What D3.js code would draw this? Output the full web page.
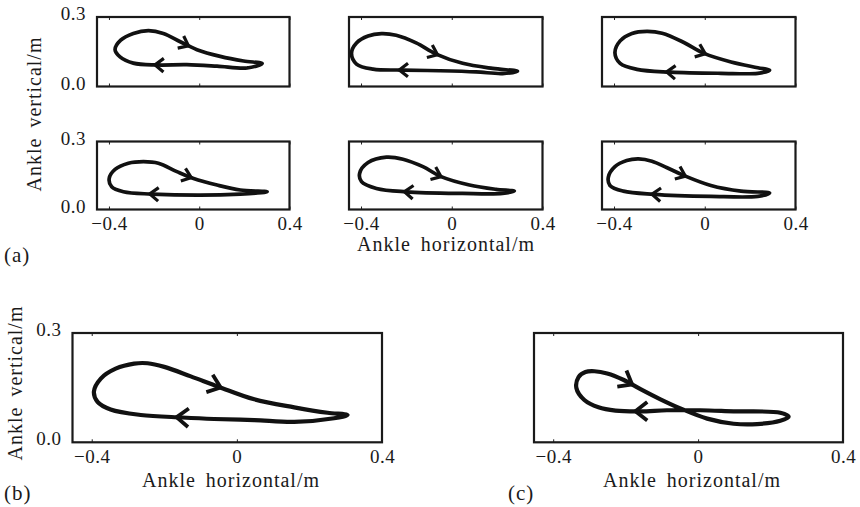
<!DOCTYPE html>
<html>
<head>
<meta charset="utf-8">
<script src="https://cdn.jsdelivr.net/npm/d3@7"></script>
<style>
  html, body { margin: 0; padding: 0; background: #fff; }
  svg { display: block; }
  text { font-family: "Liberation Serif", "Times New Roman", Times, serif; fill: #1a1a1a; }
</style>
</head>
<body>
<svg id="chart" width="860" height="507"></svg>
<script>
// Ankle trajectories (horizontal, vertical) in metres.
// Each loop starts at the forward tip, runs back along the lower (return) branch,
// around the rear end, and forward along the upper (swing) branch.
const trajA1 = [[0.279,0.099],[0.212,0.080],[0.079,0.088],[-0.055,0.094],[-0.188,0.093],[-0.292,0.101],[-0.351,0.128],[-0.373,0.159],[-0.348,0.200],[-0.292,0.229],[-0.225,0.241],[-0.159,0.229],[-0.084,0.193],[-0.010,0.159],[0.093,0.130],[0.197,0.110]];
const trajA2 = [[0.290,0.066],[0.224,0.056],[0.107,0.063],[-0.054,0.068],[-0.215,0.071],[-0.347,0.075],[-0.420,0.097],[-0.442,0.144],[-0.420,0.188],[-0.369,0.218],[-0.310,0.228],[-0.245,0.221],[-0.157,0.188],[-0.069,0.140],[0.048,0.100],[0.180,0.078]];
const trajA3 = [[0.286,0.070],[0.234,0.057],[0.071,0.057],[-0.151,0.062],[-0.299,0.074],[-0.373,0.100],[-0.396,0.146],[-0.373,0.197],[-0.321,0.229],[-0.255,0.238],[-0.188,0.230],[-0.092,0.190],[-0.003,0.143],[0.116,0.106],[0.234,0.081]];
const trajA4 = [[0.301,0.078],[0.182,0.068],[0.004,0.063],[-0.210,0.068],[-0.336,0.078],[-0.388,0.100],[-0.399,0.137],[-0.373,0.177],[-0.314,0.204],[-0.247,0.211],[-0.181,0.204],[-0.099,0.167],[-0.025,0.137],[0.079,0.108],[0.182,0.086]];
const trajA5 = [[0.276,0.081],[0.224,0.071],[0.048,0.071],[-0.201,0.078],[-0.332,0.093],[-0.398,0.123],[-0.406,0.160],[-0.369,0.207],[-0.288,0.231],[-0.215,0.222],[-0.127,0.189],[-0.047,0.145],[0.078,0.108],[0.195,0.089]];
const trajA6 = [[0.286,0.073],[0.234,0.058],[0.027,0.058],[-0.225,0.067],[-0.359,0.081],[-0.418,0.106],[-0.425,0.143],[-0.396,0.189],[-0.344,0.216],[-0.292,0.223],[-0.233,0.213],[-0.166,0.184],[-0.092,0.150],[0.027,0.106],[0.160,0.081]];
const trajB  = [[0.305,0.075],[0.268,0.066],[0.158,0.056],[0.048,0.061],[-0.063,0.064],[-0.150,0.068],[-0.265,0.075],[-0.348,0.090],[-0.384,0.111],[-0.394,0.139],[-0.375,0.175],[-0.334,0.202],[-0.283,0.216],[-0.246,0.217],[-0.200,0.207],[-0.127,0.181],[-0.049,0.152],[0.048,0.118],[0.158,0.096],[0.250,0.081]];
const trajC  = [[0.250,0.070],[0.227,0.081],[0.098,0.085],[0.006,0.088],[-0.086,0.088],[-0.159,0.085],[-0.228,0.087],[-0.275,0.096],[-0.314,0.116],[-0.336,0.149],[-0.330,0.179],[-0.311,0.193],[-0.286,0.195],[-0.251,0.189],[-0.205,0.171],[-0.159,0.146],[-0.104,0.118],[-0.049,0.093],[0.025,0.065],[0.098,0.051],[0.163,0.050],[0.227,0.059]];

// Horizontal position of the direction arrows: [swing branch, return branch]
const arrowsA1 = [-0.047, -0.196];
const arrowsA2 = [-0.062, -0.230];
const arrowsA3 = [0.004, -0.166];
const arrowsA4 = [-0.033, -0.218];
const arrowsA5 = [-0.047, -0.208];
const arrowsA6 = [-0.084, -0.232];
const arrowsB  = [-0.044, -0.164];
const arrowsC  = [-0.182, -0.173];

// Axis ticks and titles
const xTicks = [-0.4, 0, 0.4];
const yTicks = [0, 0.3];
const xDomain = [-0.453, 0.4];
const yDomain = [0, 0.3];
const xTitle = "Ankle horizontal/m";
const yTitle = "Ankle vertical/m";

const svg = d3.select("#chart");
const FONT = "'Liberation Serif', 'Times New Roman', Times, serif";

// Panel frames [left, top, right, bottom] in px
const panels = [
  { data: trajA1, arrows: arrowsA1, box: [97, 17, 289.5, 86.5],   xLab: false, yLab: true,  big: false },
  { data: trajA2, arrows: arrowsA2, box: [349, 17, 542.5, 86.5],  xLab: false, yLab: false, big: false },
  { data: trajA3, arrows: arrowsA3, box: [602, 17, 795.5, 86.5],  xLab: false, yLab: false, big: false },
  { data: trajA4, arrows: arrowsA4, box: [97, 141.5, 289.5, 209.5],  xLab: true, yLab: true,  big: false },
  { data: trajA5, arrows: arrowsA5, box: [349, 141.5, 542.5, 209.5], xLab: true, yLab: false, big: false },
  { data: trajA6, arrows: arrowsA6, box: [602, 141.5, 795.5, 209.5], xLab: true, yLab: false, big: false },
  { data: trajB,  arrows: arrowsB,  box: [72.5, 333, 382, 442.3],  xLab: true, yLab: true,  big: true },
  { data: trajC,  arrows: arrowsC,  box: [534, 333, 843, 442.3],   xLab: true, yLab: false, big: true }
];

const fmtX = v => v === 0 ? "0" : d3.format(".1f")(v);
const fmtY = d3.format(".1f");

panels.forEach(p => {
  const [l, t, r, b] = p.box;
  const x = d3.scaleLinear().domain(xDomain).range([l, r]);
  const y = d3.scaleLinear().domain(yDomain).range([b, t]);
  const g = svg.append("g");

  // inward ticks on top and bottom edges
  const axB = d3.axisBottom(x).tickValues(xTicks).tickSize(-3).tickPadding(7)
    .tickFormat(p.xLab ? fmtX : () => "");
  const gb = g.append("g").attr("transform", `translate(0,${b})`).call(axB);
  const axT = d3.axisTop(x).tickValues(xTicks).tickSize(-3).tickFormat(() => "");
  const gt = g.append("g").attr("transform", `translate(0,${t})`).call(axT);
  [gb, gt].forEach(a => {
    a.attr("font-family", null);
    a.select(".domain").remove();
    a.selectAll(".tick line").attr("stroke", "#222").attr("stroke-width", 1);
    a.selectAll("text").style("font-family", FONT).attr("font-size", 19)
      .attr("letter-spacing", "0.5px").attr("fill", "#1a1a1a");
  });

  if (p.yLab) {
    const axL = d3.axisLeft(y).tickValues(yTicks).tickSize(0).tickPadding(11).tickFormat(fmtY);
    const gl = g.append("g").attr("transform", `translate(${l},0)`).call(axL);
    gl.attr("font-family", null);
    gl.select(".domain").remove();
    gl.selectAll("text").style("font-family", FONT).attr("font-size", 19)
      .attr("letter-spacing", "0.5px").attr("fill", "#1a1a1a")
      .attr("dy", null).attr("y", -4).attr("dominant-baseline", "central");
  }

  // frame
  g.append("rect").attr("x", l).attr("y", t).attr("width", r - l).attr("height", b - t)
    .attr("fill", "none").attr("stroke", "#1a1a1a").attr("stroke-width", 2.2);

  // trajectory loop
  const line = d3.line().x(d => x(d[0])).y(d => y(d[1])).curve(d3.curveCatmullRomClosed.alpha(0.5));
  const path = g.append("path").datum(p.data).attr("d", line)
    .attr("fill", "none").attr("stroke", "#111")
    .attr("stroke-width", p.big ? 4.2 : 3.7)
    .attr("stroke-linejoin", "round").attr("stroke-linecap", "round");

  // direction chevrons
  const node = path.node();
  const L = node.getTotalLength();
  const N = 600;
  const pts = d3.range(N + 1).map(i => node.getPointAtLength(L * i / N));
  const placeArrow = (idx) => {
    const p0 = pts[Math.max(idx - 3, 0)], p1 = pts[Math.min(idx + 3, N)];
    const ang = Math.atan2(p1.y - p0.y, p1.x - p0.x);
    const apex = pts[idx];
    const len = p.big ? 15 : 11, spread = 38 * Math.PI / 180;
    const a1 = [apex.x + len * Math.cos(ang + Math.PI - spread), apex.y + len * Math.sin(ang + Math.PI - spread)];
    const a2 = [apex.x + len * Math.cos(ang + Math.PI + spread), apex.y + len * Math.sin(ang + Math.PI + spread)];
    g.append("path")
      .attr("d", `M${a1[0]},${a1[1]}L${apex.x},${apex.y}L${a2[0]},${a2[1]}`)
      .attr("fill", "none").attr("stroke", "#111")
      .attr("stroke-width", p.big ? 3.8 : 3.2)
      .attr("stroke-linejoin", "miter");
  };
  // swing branch: search backwards from the end of the loop
  const sx = x(p.arrows[0]);
  let iS = N;
  while (iS > 0 && pts[iS].x > sx) iS--;
  placeArrow(iS);
  // return branch: search forward from the start of the loop
  const rx = x(p.arrows[1]);
  let iR = 0;
  while (iR < N && pts[iR].x > rx) iR++;
  placeArrow(iR);
});

// titles
const title = (txt, xPos, yPos, rotate) => {
  const tx = svg.append("text").text(txt)
    .style("font-family", FONT).attr("font-size", 20)
    .attr("letter-spacing", "1px").attr("word-spacing", "4px")
    .attr("text-anchor", "middle");
  if (rotate) tx.attr("transform", `translate(${xPos},${yPos}) rotate(-90)`);
  else tx.attr("x", xPos).attr("y", yPos);
};
title(xTitle, 446, 251, false);
title(yTitle, 41, 114, true);
title(xTitle, 231, 487, false);
title(yTitle, 22, 383, true);
title(xTitle, 692, 487, false);

// panel letters
[["(a)", 4, 262], ["(b)", 4, 500], ["(c)", 508, 500]].forEach(([s, px, py]) => {
  svg.append("text").text(s).attr("x", px).attr("y", py)
    .style("font-family", FONT).attr("font-size", 21).attr("letter-spacing", "1px");
});
</script>
</body>
</html>
